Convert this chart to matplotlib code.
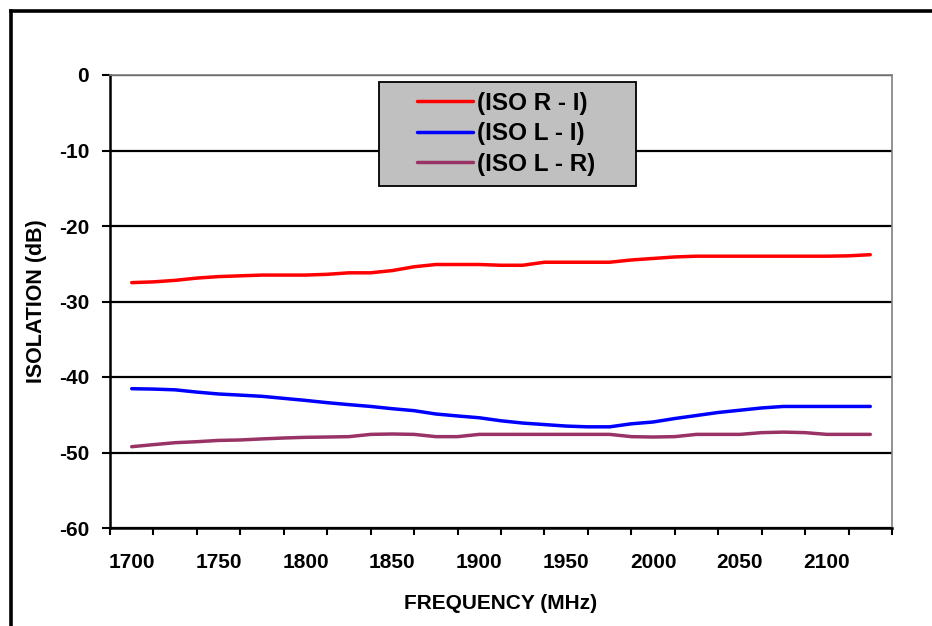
import matplotlib

matplotlib.use("Agg")
import matplotlib.pyplot as plt
from matplotlib.lines import Line2D
from matplotlib.patches import Rectangle
from matplotlib.ticker import FixedLocator, NullFormatter

plt.rcParams["font.family"] = ["Liberation Sans", "DejaVu Sans"]
plt.rcParams["font.weight"] = "bold"
plt.rcParams["axes.unicode_minus"] = False

# frequency points (MHz)
freq = [1700, 1712.5, 1725, 1737.5, 1750, 1762.5, 1775, 1787.5, 1800, 1812.5,
        1825, 1837.5, 1850, 1862.5, 1875, 1887.5, 1900, 1912.5, 1925, 1937.5,
        1950, 1962.5, 1975, 1987.5, 2000, 2012.5, 2025, 2037.5, 2050, 2062.5,
        2075, 2087.5, 2100, 2112.5, 2125]

iso_r_i = [-27.5, -27.4, -27.2, -26.9, -26.7, -26.6, -26.5, -26.5, -26.5, -26.4,
           -26.2, -26.2, -25.9, -25.4, -25.1, -25.1, -25.1, -25.2, -25.2, -24.8,
           -24.8, -24.8, -24.8, -24.5, -24.3, -24.1, -24.0, -24.0, -24.0, -24.0,
           -24.0, -24.0, -24.0, -23.95, -23.8]

iso_l_i = [-41.55, -41.6, -41.7, -42.0, -42.25, -42.4, -42.56, -42.83, -43.1, -43.4,
           -43.66, -43.9, -44.2, -44.46, -44.9, -45.16, -45.4, -45.8, -46.1, -46.3,
           -46.5, -46.6, -46.6, -46.2, -45.96, -45.5, -45.1, -44.7, -44.4, -44.1,
           -43.9, -43.9, -43.9, -43.9, -43.9]

iso_l_r = [-49.23, -48.96, -48.7, -48.57, -48.4, -48.34, -48.2, -48.08, -47.99, -47.95,
           -47.9, -47.6, -47.55, -47.6, -47.9, -47.9, -47.6, -47.6, -47.6, -47.6,
           -47.6, -47.6, -47.6, -47.9, -47.95, -47.9, -47.6, -47.6, -47.6, -47.37,
           -47.3, -47.37, -47.6, -47.6, -47.6]

labels = ["(ISO R - I)", "(ISO L - I)", "(ISO L - R)"]
colors = ["#FF0000", "#0000FF", "#993366"]

W, H = 932, 626
fig = plt.figure(figsize=(W / 100, H / 100), dpi=100)
fig.patch.set_facecolor("white")

# outer chart frame (only top and left edges are visible)
fig.add_artist(Line2D([11 / W, 11 / W], [0, 1 - 11 / H], color="black", lw=2.6,
                      transform=fig.transFigure))
fig.add_artist(Line2D([11 / W, 1], [1 - 11 / H, 1 - 11 / H], color="black", lw=2.6,
                      transform=fig.transFigure))

ax = fig.add_axes([110 / W, (H - 528) / H, 782 / W, 453 / H])

for y, lab, c in zip([iso_r_i, iso_l_i, iso_l_r], labels, colors):
    ax.plot(freq, y, color=c, lw=2.5, label=lab, solid_capstyle="round", zorder=3)

ax.set_xlim(1687.5, 2137.5)
ax.set_ylim(-60, 0)

# category boundaries carry the tick marks, labels sit in the middle
ax.xaxis.set_major_locator(FixedLocator([1687.5 + 25 * k for k in range(19)]))
ax.xaxis.set_major_formatter(NullFormatter())
ax.xaxis.set_minor_locator(FixedLocator([1700, 1750, 1800, 1850, 1900, 1950, 2000, 2050, 2100]))
ax.set_xticklabels(["1700", "1750", "1800", "1850", "1900", "1950", "2000", "2050", "2100"],
                   minor=True)
ax.tick_params(axis="x", which="major", direction="out", length=5, width=1.5, color="black")
ax.tick_params(axis="x", which="minor", length=0, pad=18, labelsize=15)

ax.set_yticks([0, -10, -20, -30, -40, -50, -60])
ax.tick_params(axis="y", direction="out", length=6, width=1.5, pad=9, labelsize=15)

ax.grid(axis="y", color="black", lw=1.6, zorder=1)
ax.set_axisbelow(True)

ax.spines["left"].set_linewidth(1.8)
ax.spines["bottom"].set_linewidth(1.8)
for s in ["top", "right"]:
    ax.spines[s].set_color("#808080")
    ax.spines[s].set_linewidth(1.2)

ax.set_xlabel("FREQUENCY (MHz)", fontsize=15, fontweight="bold", labelpad=16)
fig.text(37 / W, 1 - 301 / H, "ISOLATION (dB)", rotation=90, ha="center", va="center",
         fontsize=15.5, fontweight="bold")

# legend box drawn by hand to match the grey panel
ax.add_patch(Rectangle(((379 - 110) / 782, (528 - 186) / 453), 257 / 782, 104 / 453,
                       transform=ax.transAxes, facecolor="#C0C0C0", edgecolor="black",
                       lw=1.3, zorder=5))
leg = ax.legend(loc="upper left", bbox_to_anchor=((417 - 110) / 782, (528 - 92) / 453),
                frameon=False, fontsize=17.5, handlelength=2.3, handletextpad=0.15,
                labelspacing=0.3, borderpad=0, borderaxespad=0)
leg.set_zorder(6)

fig.savefig("out.png", dpi=100, facecolor="white")
